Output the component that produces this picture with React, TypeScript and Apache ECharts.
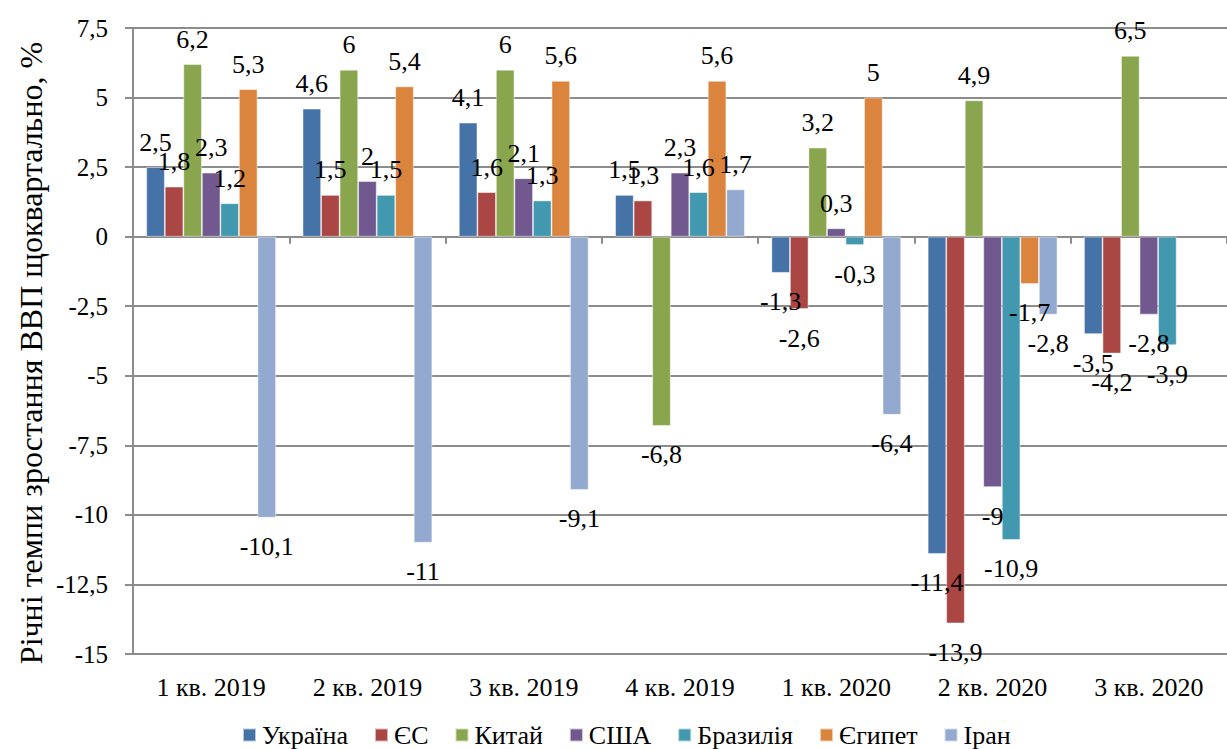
import React, { useEffect, useRef } from "react";
import * as echarts from "echarts";

const categories = ["1 кв. 2019", "2 кв. 2019", "3 кв. 2019", "4 кв. 2019", "1 кв. 2020", "2 кв. 2020", "3 кв. 2020"];
const seriesNames = ["Україна", "ЄС", "Китай", "США", "Бразилія", "Єгипет", "Іран"];
const ukraine = [2.5, 4.6, 4.1, 1.5, -1.3, -11.4, -3.5];
const eu = [1.8, 1.5, 1.6, 1.3, -2.6, -13.9, -4.2];
const china = [6.2, 6, 6, -6.8, 3.2, 4.9, 6.5];
const usa = [2.3, 2, 2.1, 2.3, 0.3, -9, -2.8];
const brazil = [1.2, 1.5, 1.3, 1.6, -0.3, -10.9, -3.9];
const egypt = [5.3, 5.4, 5.6, 5.6, 5, -1.7, null];
const iran = [-10.1, -11, -9.1, 1.7, -6.4, -2.8, null];
const colors = ["#4572A7", "#AA4643", "#89A54E", "#71588F", "#4198AF", "#DB843D", "#93A9CF"];
const yTicks = { min: -15, max: 7.5, interval: 2.5 };

const FONT = "Liberation Serif";

const fmt = (v: number) => String(v).replace(".", ",");

export default function App() {
  const ref = useRef<HTMLDivElement>(null);
  useEffect(() => {
    if (!ref.current) return;
    const chart = echarts.init(ref.current, undefined, { renderer: "svg" });
    const all = [ukraine, eu, china, usa, brazil, egypt, iran];
    const series = all.map((arr, i) => ({
      name: seriesNames[i],
      type: "bar",
      barGap: "0%",
      barCategoryGap: "17%",
      itemStyle: { color: colors[i], borderColor: "rgba(255,255,255,0.6)", borderWidth: 0.8 },
      data: arr.map((v) =>
        v === null
          ? null
          : {
              value: v,
              label: {
                show: true,
                position: v >= 0 ? "top" : "bottom",
                distance: v >= 0 ? 12 : 16,
                formatter: () => fmt(v),
                fontFamily: FONT,
                fontSize: 26,
                color: "#000",
              },
            }
      ),
    }));
    chart.setOption({
      animation: false,
      color: colors,
      textStyle: { fontFamily: FONT },
      grid: { left: 133, right: -7, top: 28, bottom: 95, containLabel: false },
      legend: {
        top: 722,
        left: 242,
        padding: 0,
        itemWidth: 13,
        itemHeight: 13,
        itemGap: 26,
        icon: "rect",
        textStyle: { fontFamily: FONT, fontSize: 26, color: "#000", padding: [0, 0, 0, 1] },
        data: seriesNames,
      },
      xAxis: [
        {
          type: "category",
          data: categories,
          position: "bottom",
          axisLine: { show: false, onZero: false },
          axisTick: { show: false },
          axisLabel: { fontFamily: FONT, fontSize: 26, color: "#000", margin: 20 },
        },
        {
          type: "category",
          data: categories,
          position: "bottom",
          axisLine: { show: true, onZero: true, lineStyle: { color: "#8c8c8c", width: 2 } },
          axisTick: { show: true, length: 7, inside: false, lineStyle: { color: "#8c8c8c", width: 2 } },
          axisLabel: { show: false },
        },
      ],
      yAxis: {
        type: "value",
        min: yTicks.min,
        max: yTicks.max,
        interval: yTicks.interval,
        axisLine: { show: true, lineStyle: { color: "#8c8c8c", width: 2 } },
        axisTick: { show: true, length: 8, lineStyle: { color: "#8c8c8c", width: 2 } },
        splitLine: { show: true, lineStyle: { color: "#8c8c8c", width: 2 } },
        axisLabel: {
          fontFamily: FONT,
          fontSize: 25,
          color: "#000",
          margin: 25,
          formatter: (v: number) => fmt(v),
        },
      },
      graphic: [
        {
          type: "text",
          x: 31,
          y: 353,
          rotation: Math.PI / 2,
          style: {
            text: "Річні темпи зростання ВВП щоквартально, %",
            fontFamily: FONT,
            fontSize: 32,
            fill: "#000",
            align: "center",
            verticalAlign: "middle",
          },
        },
      ],
      series,
    });
    return () => chart.dispose();
  }, []);
  return <div ref={ref} style={{ position: "absolute", left: 0, top: 0, width: 1227, height: 749 }} />;
}
